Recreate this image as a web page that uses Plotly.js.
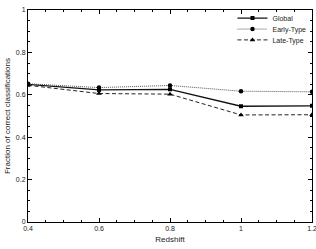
<!DOCTYPE html>
<html>
<head>
<meta charset="utf-8">
<script src="https://cdn.plot.ly/plotly-3.0.1.min.js"></script>
<style>html,body{margin:0;padding:0;background:#fff;}#chart{width:316px;height:249px;}</style>
</head>
<body>
<div id="chart"></div>
<script>
var redshift = [0.4, 0.6, 0.8, 1.0, 1.2];
var globalFrac = [0.649, 0.623, 0.626, 0.546, 0.548];
var earlyFrac = [0.652, 0.634, 0.644, 0.617, 0.614];
var lateFrac = [0.645, 0.606, 0.603, 0.505, 0.506];
var seriesNames = ['Global', 'Early-Type', 'Late-Type'];

var font = 'Liberation Sans, Arial, sans-serif';
var traces = [
  {x: redshift, y: globalFrac, name: seriesNames[0], mode: 'lines+markers', legend: 'legend',
   line: {color: '#111', width: 1.3, dash: 'solid'},
   marker: {symbol: 'square', size: 4, color: '#000'}},
  {x: redshift, y: earlyFrac, name: seriesNames[1], mode: 'lines+markers', legend: 'legend2',
   line: {color: '#555', width: 1, dash: '1px,1px'},
   marker: {symbol: 'circle', size: 4.5, color: '#000'}},
  {x: redshift, y: lateFrac, name: seriesNames[2], mode: 'lines+markers', legend: 'legend3',
   line: {color: '#222', width: 1, dash: '4px,2.5px'},
   marker: {symbol: 'triangle-up', size: 5, color: '#000'}}
];
var axisCommon = {
  showgrid: false, zeroline: false, showline: true, linecolor: '#000', linewidth: 1,
  mirror: 'allticks', ticks: 'inside', ticklen: 4, tickcolor: '#000', tickwidth: 1,
  ticklabeloverflow: 'allow',
  tickfont: {family: font, size: 7, color: '#222'}
};
function leg(yc) {
  return {x: 0.72, y: yc, xanchor: 'left', yanchor: 'middle', bgcolor: 'rgba(0,0,0,0)',
          font: {family: font, size: 7, color: '#222'}};
}
var layout = {
  width: 316, height: 249,
  margin: {l: 28, r: 4, t: 5, b: 27},
  paper_bgcolor: '#fff', plot_bgcolor: '#fff',
  showlegend: true,
  legend: leg(0.962), legend2: leg(0.91), legend3: leg(0.859),
  xaxis: Object.assign({}, axisCommon, {
    range: [0.4, 1.2], dtick: 0.2, tick0: 0.4,
    minor: {dtick: 0.05, ticklen: 2, ticks: 'inside', tickcolor: '#000'},
    title: {text: 'Redshift', font: {family: font, size: 8, color: '#222'}, standoff: 4}
  }),
  yaxis: Object.assign({}, axisCommon, {
    range: [0, 1], dtick: 0.2, tick0: 0,
    minor: {dtick: 0.05, ticklen: 2, ticks: 'inside', tickcolor: '#000'},
    title: {text: 'Fraction of correct classifications', font: {family: font, size: 8, color: '#222'}, standoff: 4}
  })
};
Plotly.newPlot('chart', traces, layout, {displayModeBar: false, staticPlot: true});
</script>
</body>
</html>
